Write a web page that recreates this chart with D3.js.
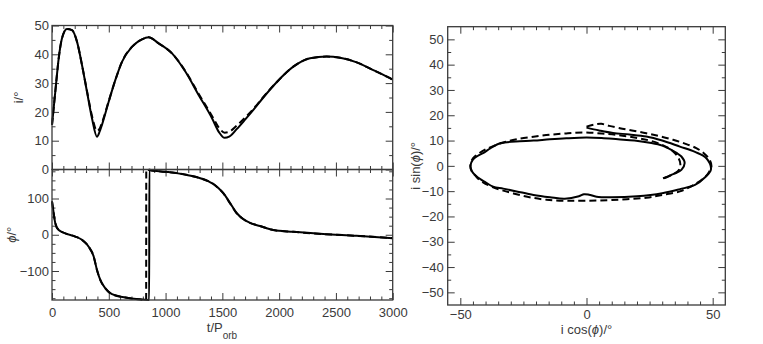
<!DOCTYPE html>
<html>
<head>
<meta charset="utf-8">
<script src="https://cdn.jsdelivr.net/npm/d3@7"></script>
<style>
  body { margin: 0; background: #fff; }
  text { font-family: "Liberation Sans", Arial, Helvetica, sans-serif; }
</style>
</head>
<body>
<script>
// inclination i(t), solid and dashed runs
const incTime   = [0, 29, 59, 88, 132, 176, 220, 264, 308, 352, 396, 420, 440, 499, 558, 616, 704, 792, 851, 939, 1057, 1174, 1291, 1409, 1470, 1520, 1560, 1626, 1700, 1773, 1861, 1978, 2125, 2272, 2418, 2536, 2683, 2829, 2976, 3000];
const incSolid  = [15.5, 27, 38.6, 45.6, 48.8, 48.4, 44.4, 36.3, 27, 17.8, 11.4, 13.2, 15.5, 23.5, 31.1, 37.4, 42.6, 45.2, 45.9, 43.8, 40.3, 34, 25.9, 17.8, 13, 11, 11.4, 14, 17.3, 20.7, 25, 30.3, 35.7, 38.6, 39.2, 38.8, 37.2, 34.5, 31.7, 31.2];
const incDashed = [15.5, 27, 38.6, 45.6, 48.8, 48.4, 44.4, 36.3, 27.3, 18.6, 13.4, 14.2, 16.2, 23.7, 31.1, 37.4, 42.6, 45.2, 45.9, 43.8, 40.3, 34.2, 26.3, 18.6, 14.5, 12.8, 13.1, 15.2, 18, 21, 25.2, 30.3, 35.7, 38.6, 39.2, 38.8, 37.2, 34.5, 31.7, 31.2];

// node angle phi(t)
const phiTimeSolid  = [0, 15, 29, 59, 117, 205, 264, 323, 367, 396, 426, 470, 528, 646, 763, 856, 857, 880, 1057, 1233, 1380, 1421, 1467, 1509, 1567, 1626, 1680, 1743, 1831, 1948, 2124, 2388, 2681, 3000];
const phiSolid      = [92, 59, 32, 13, 4, -5, -14, -33, -60, -97, -125, -148, -164, -173, -178, -180, 180, 177, 172, 162, 147, 140, 128, 115, 88, 60, 44, 33, 24, 13, 8, 2, -3, -9.5];
const phiTimeDashed = [0, 15, 29, 59, 117, 205, 264, 323, 367, 396, 426, 470, 528, 646, 763, 829, 830, 880, 1057, 1233, 1380, 1421, 1467, 1509, 1567, 1626, 1680, 1743, 1831, 1948, 2124, 2388, 2681, 3000];
const phiDashed     = [92, 59, 32, 13, 4, -5, -14, -33, -60, -97, -125, -148, -164, -173, -178, -180, 180, 177, 172, 162, 147, 140, 128, 114, 87, 59, 44, 33, 24, 13, 8, 2, -3, -9.5];

// i cos(phi), i sin(phi)
const cosSolid = [0, 5, 10.5, 17, 23.7, 30, 37, 43, 47.5, 49.3, 47, 43, 37, 30, 20, 10, 4, 1, -1, -3, -8.6, -14.5, -21, -27.7, -33, -37, -40, -43.5, -45.5, -46, -45, -43, -41, -38, -34, -28, -21, -14.5, -8, 0, 6, 12.5, 19, 25.7, 30, 32.3, 35.5, 37.6, 38.9, 37.6, 35, 33.6, 31.5, 30.3];
const sinSolid = [15.1, 14, 13, 12.4, 11.6, 10, 7.6, 5.5, 3, -1.5, -4.5, -7.5, -9.2, -10.8, -12, -12.4, -12.2, -11.4, -11.2, -12, -13, -12.4, -11.5, -10.1, -9, -8.2, -6.5, -4.2, -2, 0, 2.5, 4, 5, 7, 9, 9.6, 10, 10.5, 10.9, 11.2, 11, 10.5, 10, 9, 8, 7, 5.2, 3.7, 1.1, -1.6, -3, -3.6, -4.5, -4.9];
const cosDashed = [0, 3, 5.9, 9, 13.2, 18, 23.7, 29, 34.3, 39, 43.5, 46.5, 48.8, 49.5, 48.5, 46.9, 42, 37, 30, 23.7, 10, 0, -8, -15.8, -22, -27.7, -33, -37, -41, -43.5, -45.5, -46, -45, -42.5, -40, -37, -32, -27.7, -21, -14.5, -8, -1.3, 6, 12.5, 19, 25, 30, 34, 36.5, 37.2, 36.5, 34.5, 32, 30.5];
const sinDashed = [15.5, 16.3, 16.6, 15.8, 14.9, 14, 12.9, 11.7, 10.3, 8.8, 7, 5, 2.4, -0.3, -2.5, -4.5, -7.8, -10.1, -11.5, -12.6, -13.5, -13.8, -13.8, -13.4, -12.5, -11.2, -9.8, -8.5, -6.5, -4.5, -2, 0, 3, 5, 6.5, 7.8, 9.5, 10.5, 11.5, 12.3, 12.8, 13.2, 12.8, 12.2, 11.2, 10, 8.3, 6, 3, 0.5, -1.8, -3.2, -4.4, -5];

// tick labels
const timeTicks = [0, 500, 1000, 1500, 2000, 2500, 3000];
const incTicks = [0, 10, 20, 30, 40, 50];
const phiTicks = [-100, 0, 100];
const cosTicks = [-50, 0, 50];
const sinTicks = [-50, -40, -30, -20, -10, 0, 10, 20, 30, 40, 50];

const svg = d3.select("body").append("svg")
    .attr("width", 763)
    .attr("height", 344);

const ink = "#3a3a3a";

const xT   = d3.scaleLinear().domain([0, 3000]).range([52, 392.7]);
const yInc = d3.scaleLinear().domain([0, 50]).range([169.5, 25.5]);
const yPhi = d3.scaleLinear().domain([-180, 180]).range([300, 169.5]);
const xC   = d3.scaleLinear().domain([-55, 55]).range([447.7, 725.3]);
const yS   = d3.scaleLinear().domain([-55, 55]).range([305, 26.7]);

function range(a, b, step, skip) {
  const out = [];
  for (let v = a; v <= b + 1e-9; v += step) {
    if (!skip || Math.abs(v % skip) > 1e-9) out.push(v);
  }
  return out;
}

// one side of a frame: inward ticks, optional labels
function side(axisFn, scale, transform, major, minor, labels, pad) {
  const g = svg.append("g").attr("transform", transform).attr("color", ink);
  const axMin = axisFn(scale).tickValues(minor).tickSizeInner(-3.5).tickSizeOuter(0).tickFormat("");
  g.append("g").call(axMin).select(".domain").remove();
  const axMaj = axisFn(scale).tickValues(major).tickSizeInner(-7).tickSizeOuter(0).tickPadding(pad)
      .tickFormat(labels ? d3.format("d") : "");
  const gm = g.append("g").call(axMaj);
  gm.select(".domain").remove();
  gm.selectAll("text")
    .attr("font-size", 13)
    .attr("font-family", "'Liberation Sans', Arial, sans-serif")
    .attr("fill", ink);
  return g;
}

function frame(x, y) {
  const [x0, x1] = x.range();
  const [y1, y0] = y.range();
  svg.append("rect")
    .attr("x", x0).attr("y", y0)
    .attr("width", x1 - x0).attr("height", y1 - y0)
    .attr("fill", "none")
    .attr("stroke", ink)
    .attr("stroke-width", 1.3);
}

// ---- top-left: i vs t
const tMaj = range(0, 3000, 500);
const tMin = range(0, 3000, 100, 500);
side(d3.axisBottom, xT, `translate(0,${yInc(0)})`, tMaj, tMin, false, 0);
side(d3.axisTop, xT, `translate(0,${yInc(50)})`, tMaj, tMin, false, 0);
side(d3.axisLeft, yInc, `translate(${xT(0)},0)`, incTicks, range(5, 45, 10), true, 3);
side(d3.axisRight, yInc, `translate(${xT(3000)},0)`, incTicks, range(5, 45, 10), false, 0);

// ---- bottom-left: phi vs t
const phiMinor = range(-175, 175, 25).filter(v => v % 100 !== 0);
side(d3.axisTop, xT, `translate(0,${yPhi(180)})`, tMaj, tMin, false, 0);
side(d3.axisBottom, xT, `translate(0,${yPhi(-180)})`, timeTicks, tMin, true, 8);
side(d3.axisLeft, yPhi, `translate(${xT(0)},0)`, phiTicks, phiMinor, true, 3);
side(d3.axisRight, yPhi, `translate(${xT(3000)},0)`, phiTicks, phiMinor, false, 0);

// ---- right: i sin(phi) vs i cos(phi)
const cMin = range(-50, 50, 5).filter(v => v % 50 !== 0);
const sMin = range(-50, 50, 5).filter(v => v % 10 !== 0);
side(d3.axisBottom, xC, `translate(0,${yS(-55)})`, cosTicks, cMin, true, 5);
side(d3.axisTop, xC, `translate(0,${yS(55)})`, cosTicks, cMin, false, 0);
side(d3.axisLeft, yS, `translate(${xC(-55)},0)`, sinTicks, sMin, true, 4);
side(d3.axisRight, yS, `translate(${xC(55)},0)`, sinTicks, sMin, false, 0);

// ---- curves
function curve(xs, ys, xScale, yScale, dashed, curveType) {
  const pts = xs.map((v, k) => [v, ys[k]]);
  const line = d3.line()
      .x(d => xScale(d[0]))
      .y(d => yScale(d[1]))
      .curve(curveType);
  svg.append("path")
    .datum(pts)
    .attr("d", line)
    .attr("fill", "none")
    .attr("stroke", "#000")
    .attr("stroke-width", 2)
    .attr("stroke-linejoin", "round")
    .attr("stroke-dasharray", dashed ? "7,4" : null);
}

curve(incTime, incDashed, xT, yInc, true, d3.curveMonotoneX);
curve(incTime, incSolid, xT, yInc, false, d3.curveMonotoneX);
curve(phiTimeDashed, phiDashed, xT, yPhi, true, d3.curveMonotoneX);
curve(phiTimeSolid, phiSolid, xT, yPhi, false, d3.curveMonotoneX);
curve(cosDashed, sinDashed, xC, yS, true, d3.curveCatmullRom.alpha(0.5));
curve(cosSolid, sinSolid, xC, yS, false, d3.curveCatmullRom.alpha(0.5));

frame(xT, yInc);
frame(xT, yPhi);
frame(xC, yS);

// ---- axis titles
function title(x, y, rotate, parts, size) {
  const t = svg.append("text")
    .attr("transform", `translate(${x},${y})` + (rotate ? " rotate(-90)" : ""))
    .attr("text-anchor", "middle")
    .attr("font-size", size || 13)
    .attr("fill", ink);
  parts.forEach(p => {
    const s = t.append("tspan").text(p.text);
    if (p.italic) s.attr("font-style", "italic");
    if (p.dy) s.attr("dy", p.dy);
    if (p.size) s.attr("font-size", p.size);
  });
}

title(23, yInc(25), true, [{text: "i/°"}]);
title(16, yPhi(0), true, [{text: "ϕ", italic: true}, {text: "/°"}]);
title(222, 332, false, [{text: "t/P"}, {text: "orb", dy: 7, size: 10}]);
title(xC(0), 334, false, [{text: "i cos("}, {text: "ϕ", italic: true}, {text: ")/°"}]);
title(420, yS(0), true, [{text: "i sin("}, {text: "ϕ", italic: true}, {text: ")/°"}]);
</script>
</body>
</html>
